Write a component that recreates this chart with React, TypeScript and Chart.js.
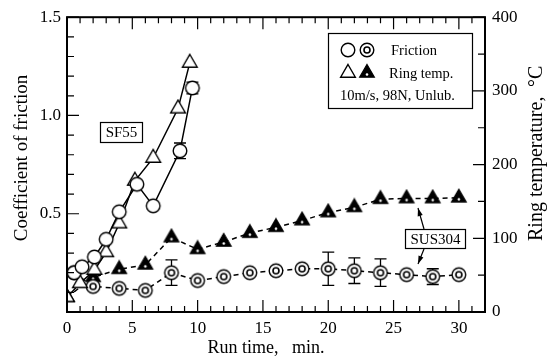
import React, { useEffect, useRef } from "react";
import { Chart, registerables } from "chart.js";

Chart.register(...registerables);

// ---------------- data ----------------
const sf55FrictionTime = [0.55, 1.15, 2.1, 3.0, 4.0, 5.35, 6.6, 8.65, 9.6];
const sf55Friction = [0.2, 0.23, 0.28, 0.37, 0.51, 0.65, 0.54, 0.82, 1.14];
const sf55FrictionErr = [0, 0, 0, 0, 0, 0, 0, 0.04, 0.03];

const sf55TempTime = [0, 1.0, 2.1, 3.0, 4.0, 5.2, 6.6, 8.5, 9.4];
const sf55Temp = [20, 39, 57, 81, 120, 178, 209, 276, 338];

const susFrictionTime = [0.55, 2, 4, 6, 8, 10, 12, 14, 16, 18, 20, 22, 24, 26, 28, 30];
const susFriction = [0.2, 0.13, 0.12, 0.11, 0.2, 0.16, 0.18, 0.2, 0.21, 0.22, 0.22, 0.21, 0.2, 0.19, 0.18, 0.19];
const susFrictionErr = [0, 0, 0, 0, 0.065, 0, 0, 0, 0, 0, 0.085, 0.065, 0.07, 0, 0.04, 0];

const susTempTime = [0, 2, 4, 6, 8, 10, 12, 14, 16, 18, 20, 22, 24, 26, 28, 30];
const susTemp = [20, 47, 58, 64, 101, 85, 95, 107, 115, 124, 135, 142, 153, 154, 154, 155];

const timeTicks = [0, 5, 10, 15, 20, 25, 30];
const frictionTicks = [0.5, 1.0, 1.5];
const tempTicks = [0, 100, 200, 300, 400];

const xTitle = "Run time,   min.";
const yTitle = "Coefficient of friction";
const y2Title = "Ring temperature,";
const y2Unit = "°C";
const legendFriction = "Friction";
const legendTemp = "Ring temp.";
const legendCond = "10m/s, 98N, Unlub.";
const labelSF = "SF55";
const labelSUS = "SUS304";

const FONT = '"Liberation Serif", "Times New Roman", serif';

const zip = (xs: number[], ys: number[]) => xs.map((x, i) => ({ x, y: ys[i] }));

function triPath(g: CanvasRenderingContext2D, cx: number, cy: number, r: number) {
  g.beginPath();
  for (let i = 0; i < 3; i++) {
    const a = -Math.PI / 2 + (i * 2 * Math.PI) / 3;
    const px = cx + r * Math.cos(a);
    const py = cy + r * Math.sin(a);
    if (i === 0) g.moveTo(px, py);
    else g.lineTo(px, py);
  }
  g.closePath();
}

function drawOpenCircle(g: CanvasRenderingContext2D, x: number, y: number) {
  g.save();
  g.fillStyle = "#fff";
  g.strokeStyle = "#000";
  g.lineWidth = 1.4;
  g.beginPath();
  g.arc(x, y, 6.8, 0, Math.PI * 2);
  g.fill();
  g.stroke();
  g.restore();
}
function drawDoubleCircle(g: CanvasRenderingContext2D, x: number, y: number) {
  drawOpenCircle(g, x, y);
  g.save();
  g.strokeStyle = "#000";
  g.lineWidth = 1.6;
  g.beginPath();
  g.arc(x, y, 3, 0, Math.PI * 2);
  g.stroke();
  g.restore();
}
function drawOpenTri(g: CanvasRenderingContext2D, x: number, y: number) {
  g.save();
  g.fillStyle = "#fff";
  g.strokeStyle = "#000";
  g.lineWidth = 1.4;
  triPath(g, x, y, 8.5);
  g.fill();
  g.stroke();
  g.restore();
}
function drawFilledTri(g: CanvasRenderingContext2D, x: number, y: number) {
  g.save();
  g.fillStyle = "#000";
  g.strokeStyle = "#000";
  g.lineWidth = 1.2;
  triPath(g, x, y, 8.5);
  g.fill();
  g.stroke();
  g.fillStyle = "#fff";
  g.beginPath();
  g.arc(x, y + 1.5, 1.3, 0, Math.PI * 2);
  g.fill();
  g.restore();
}

function makeStyle(draw: (g: CanvasRenderingContext2D, x: number, y: number) => void) {
  const c = document.createElement("canvas");
  c.width = 20;
  c.height = 20;
  const g = c.getContext("2d")!;
  draw(g, 10, 10);
  return c;
}

function arrow(g: CanvasRenderingContext2D, x1: number, y1: number, x2: number, y2: number) {
  g.save();
  g.strokeStyle = "#000";
  g.fillStyle = "#000";
  g.lineWidth = 1.2;
  g.beginPath();
  g.moveTo(x1, y1);
  g.lineTo(x2, y2);
  g.stroke();
  const a = Math.atan2(y2 - y1, x2 - x1);
  const L = 8;
  const W = 2.6;
  g.beginPath();
  g.moveTo(x2, y2);
  g.lineTo(x2 - L * Math.cos(a) + W * Math.sin(a), y2 - L * Math.sin(a) - W * Math.cos(a));
  g.lineTo(x2 - L * Math.cos(a) - W * Math.sin(a), y2 - L * Math.sin(a) + W * Math.cos(a));
  g.closePath();
  g.fill();
  g.restore();
}

const decor = {
  id: "decor",
  beforeDatasetsDraw(chart: any) {
    const g: CanvasRenderingContext2D = chart.ctx;
    const xs = chart.scales.x;
    const ys = chart.scales.y;
    g.save();
    g.strokeStyle = "#000";
    g.lineWidth = 1.3;
    const bars = (ts: number[], vs: number[], es: number[]) => {
      ts.forEach((t, i) => {
        const e = es[i];
        if (!e) return;
        const px = xs.getPixelForValue(t);
        const top = ys.getPixelForValue(vs[i] + e);
        const bot = ys.getPixelForValue(vs[i] - e);
        g.beginPath();
        g.moveTo(px, top);
        g.lineTo(px, bot);
        g.moveTo(px - 6, top);
        g.lineTo(px + 6, top);
        g.moveTo(px - 6, bot);
        g.lineTo(px + 6, bot);
        g.stroke();
      });
    };
    bars(sf55FrictionTime, sf55Friction, sf55FrictionErr);
    bars(susFrictionTime, susFriction, susFrictionErr);
    g.restore();
  },
  afterDraw(chart: any) {
    const g: CanvasRenderingContext2D = chart.ctx;
    const { left, right, top, bottom } = chart.chartArea;
    const xs = chart.scales.x;
    const ys = chart.scales.y;
    const y2s = chart.scales.y2;
    g.save();
    g.strokeStyle = "#000";
    g.fillStyle = "#000";
    // frame
    g.lineWidth = 2;
    g.strokeRect(left, top, right - left, bottom - top);
    // ticks
    g.lineWidth = 1.2;
    g.beginPath();
    for (let t = 0; t <= 32; t += 1) {
      const px = xs.getPixelForValue(t);
      const len = t % 5 === 0 ? 12 : 6;
      g.moveTo(px, bottom);
      g.lineTo(px, bottom - len);
      g.moveTo(px, top);
      g.lineTo(px, top + len);
    }
    for (let k = 0; k <= 15; k++) {
      const py = ys.getPixelForValue(k / 10);
      const len = k % 5 === 0 ? 12 : 7;
      g.moveTo(left, py);
      g.lineTo(left + len, py);
    }
    for (let v = 0; v <= 400; v += 50) {
      const py = y2s.getPixelForValue(v);
      const len = v % 100 === 0 ? 12 : 7;
      g.moveTo(right, py);
      g.lineTo(right - len, py);
    }
    g.stroke();

    // titles
    g.font = `18px ${FONT}`;
    g.textAlign = "center";
    g.textBaseline = "middle";
    g.fillText(xTitle, 266, 348);
    g.save();
    g.font = `19px ${FONT}`;
    g.translate(22, 158);
    g.rotate(-Math.PI / 2);
    g.fillText(yTitle, 0, 0);
    g.restore();
    g.save();
    g.font = `20px ${FONT}`;
    g.translate(537, 241);
    g.rotate(-Math.PI / 2);
    g.textAlign = "left";
    g.fillText(y2Title, 0, 0);
    g.restore();
    g.save();
    g.font = `20px ${FONT}`;
    g.translate(537, 87);
    g.rotate(-Math.PI / 2);
    g.textAlign = "left";
    g.fillText(y2Unit, 0, 0);
    g.restore();

    // legend box
    g.lineWidth = 1.2;
    g.strokeRect(328.5, 33.5, 144, 75);
    drawOpenCircle(g, 348, 50);
    drawDoubleCircle(g, 367, 50);
    drawOpenTri(g, 348, 73);
    drawFilledTri(g, 367, 73);
    g.font = `14.5px ${FONT}`;
    g.textAlign = "left";
    g.fillStyle = "#000";
    g.fillText(legendFriction, 391, 51);
    g.fillText(legendTemp, 389, 74);
    g.fillText(legendCond, 340, 96);

    // SF55 label
    g.lineWidth = 1.2;
    g.strokeRect(100.5, 122.5, 42, 20);
    g.font = `15px ${FONT}`;
    g.textAlign = "center";
    g.fillText(labelSF, 121.5, 133);

    // SUS304 label
    g.fillStyle = "#fff";
    g.fillRect(405, 229, 60, 19);
    g.fillStyle = "#000";
    g.strokeRect(405.5, 229.5, 60, 19);
    g.fillText(labelSUS, 435.5, 240);
    arrow(g, 424, 229, 418, 208);
    arrow(g, 424, 249, 418, 264);
    g.restore();
  },
};

export default function App() {
  const ref = useRef<HTMLCanvasElement | null>(null);
  useEffect(() => {
    document.body.style.margin = "0";
    const canvas = ref.current!;
    const openCircle = makeStyle(drawOpenCircle);
    const doubleCircle = makeStyle(drawDoubleCircle);
    const openTri = makeStyle(drawOpenTri);
    const filledTri = makeStyle(drawFilledTri);

    const base = {
      borderColor: "#000",
      borderWidth: 1.5,
      fill: false,
      tension: 0,
      pointRadius: 7,
      pointHoverRadius: 7,
      showLine: true,
    };

    const chart = new Chart(canvas, {
      type: "line",
      data: {
        datasets: [
          {
            ...base,
            label: "SF55 friction",
            data: zip(sf55FrictionTime, sf55Friction),
            yAxisID: "y",
            pointStyle: openCircle,
          },
          {
            ...base,
            label: "SF55 ring temp",
            data: zip(sf55TempTime, sf55Temp),
            yAxisID: "y2",
            pointStyle: openTri,
          },
          {
            ...base,
            label: "SUS304 friction",
            data: zip(susFrictionTime, susFriction),
            yAxisID: "y",
            borderDash: [5, 4],
            pointStyle: doubleCircle,
          },
          {
            ...base,
            label: "SUS304 ring temp",
            data: zip(susTempTime, susTemp),
            yAxisID: "y2",
            borderDash: [5, 4],
            pointStyle: filledTri,
          },
        ] as any,
      },
      options: {
        animation: false,
        responsive: false,
        maintainAspectRatio: false,
        layout: { padding: { top: 16, left: 0, right: 0, bottom: 0 } },
        plugins: { legend: { display: false }, tooltip: { enabled: false } },
        scales: {
          x: {
            type: "linear",
            position: "bottom",
            min: 0,
            max: 32,
            grid: { display: false, drawTicks: false },
            border: { display: false },
            afterBuildTicks: (s: any) => {
              s.ticks = timeTicks.map((v) => ({ value: v }));
            },
            afterFit: (s: any) => {
              s.height = 50;
            },
            ticks: {
              color: "#000",
              padding: 6,
              maxRotation: 0,
              font: { family: FONT, size: 17 },
              callback: (v: any) => String(v),
            },
          },
          y: {
            type: "linear",
            position: "left",
            min: 0,
            max: 1.5,
            grid: { display: false, drawTicks: false },
            border: { display: false },
            afterBuildTicks: (s: any) => {
              s.ticks = frictionTicks.map((v) => ({ value: v }));
            },
            afterFit: (s: any) => {
              s.width = 67;
            },
            ticks: {
              color: "#000",
              padding: 6,
              font: { family: FONT, size: 17 },
              callback: (v: any) => Number(v).toFixed(1),
            },
          },
          y2: {
            type: "linear",
            position: "right",
            min: 0,
            max: 400,
            grid: { display: false, drawTicks: false },
            border: { display: false },
            afterBuildTicks: (s: any) => {
              s.ticks = tempTicks.map((v) => ({ value: v }));
            },
            afterFit: (s: any) => {
              s.width = 64;
            },
            ticks: {
              color: "#000",
              padding: 7,
              font: { family: FONT, size: 17 },
              callback: (v: any) => String(v),
            },
          },
        },
      } as any,
      plugins: [decor],
    });
    return () => chart.destroy();
  }, []);
  return (
    <canvas
      ref={ref}
      width={549}
      height={362}
      style={{ display: "block", width: 549, height: 362 }}
    />
  );
}
